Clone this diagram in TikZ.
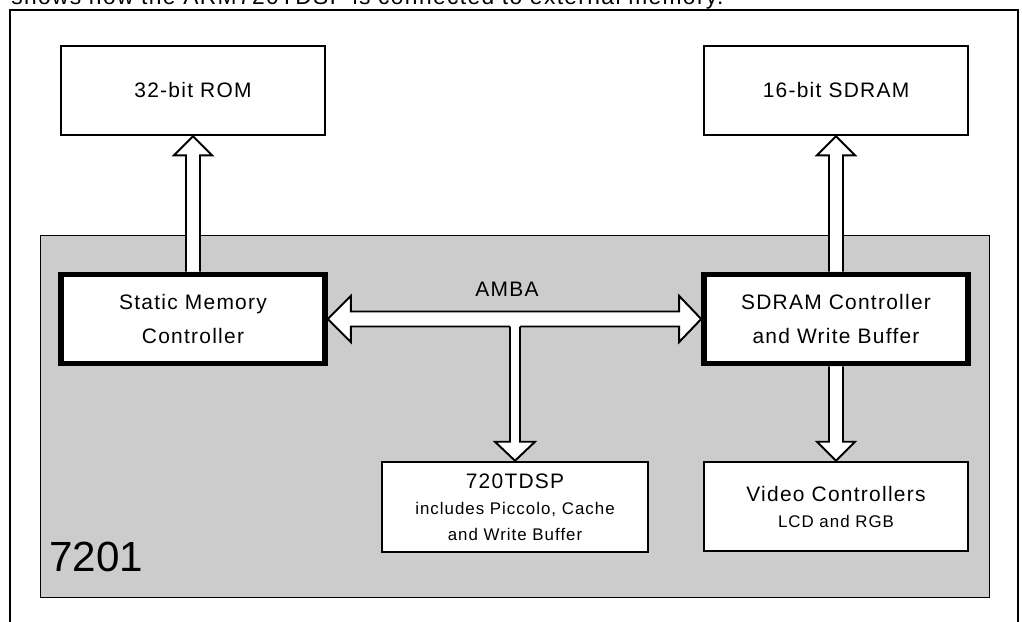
\documentclass[tikz,border=0pt]{standalone}
\usepackage{fontspec}
\setmainfont{Liberation Sans}[LetterSpace=6]
\newfontfamily\chipfont{Liberation Sans}
\usetikzlibrary{calc}
\def\pix{0.025cm}
\newcommand{\bigtext}{\fontsize{14.9pt}{23.5pt}\selectfont}
\newcommand{\smalltext}{\fontsize{12pt}{18pt}\selectfont}
\tikzset{
  chipbox/.style = {draw, fill=white, line width=1.8pt, align=center,
                    inner sep=0pt, minimum width=#1*\pix,
                    minimum height=89*\pix, font=\bigtext},
  chipbox/.default = 264,
  ctrlbox/.style = {chipbox, line width=4pt},
  hollow/.style = {draw, fill=white, line width=1.4pt},
  rim/.style = {draw, line width=1.4pt}
}

\begin{document}
\begin{tikzpicture}[x=0.025cm, y=-0.025cm]
	\useasboundingbox (0,0) rectangle (1022,621);
	\clip (0,0) rectangle (1022,621);
	
	% Caption (cut off by the page)
	\node[anchor=base west, inner sep=0pt, font=\fontsize{16.2pt}{20pt}\selectfont] (caption) at (11,4.5) {shows how the ARM720TDSP is connected to external memory.};
	
	% Frame
	\draw[line width=1.6pt] (10,640) -- (10,10) -- (1018,10) -- (1018,640);
	
	% Chip
	\draw[fill=black!20, line width=0.7pt] (40,235) rectangle (989,597);
	\node[anchor=base west, inner sep=0pt, font=\chipfont\fontsize{30pt}{36pt}\selectfont] (chip) at (49,571) {7201};
	
	% External memory
	\node[chipbox] (rom) at (193,90.5) {32-bit ROM};
	\node[chipbox] (sdram) at (836,90.5) {16-bit SDRAM};
	
	% Controllers
	\node[ctrlbox] (smc) at (193,319) {Static Memory\\Controller};
	\node[ctrlbox] (ctrl) at (836,319) {SDRAM Controller\\and Write Buffer};
	
	% Core and video
	\node[chipbox=266, minimum height=90*\pix] (dsp) at (515,507) {720TDSP\\[-4.5pt]\smalltext includes Piccolo, Cache\\[-5.3pt]\smalltext and Write Buffer};
	\node[chipbox] (video) at (836,506.5) {Video Controllers\\[-5pt]\smalltext LCD and RGB};
	
	% Arrows to memory
	\draw[hollow] ($(smc.north)+(-7,0)$) -- ($(rom.south)+(-7,19)$) -- ($(rom.south)+(-19,19)$) -- (rom.south) -- ($(rom.south)+(19,19)$) -- ($(rom.south)+(7,19)$) -- ($(smc.north)+(7,0)$);
	\draw[hollow] ($(ctrl.north)+(-7,0)$) -- ($(sdram.south)+(-7,19)$) -- ($(sdram.south)+(-19,19)$) -- (sdram.south) -- ($(sdram.south)+(19,19)$) -- ($(sdram.south)+(7,19)$) -- ($(ctrl.north)+(7,0)$);
	
	% AMBA bus
	\draw[hollow] (smc.east) -- ($(smc.east)+(23,-23)$) -- ($(smc.east)+(23,-7.5)$) -- ($(ctrl.west)+(-22,-7.5)$) -- ($(ctrl.west)+(-22,-23)$) -- (ctrl.west) -- ($(ctrl.west)+(-22,23)$) -- ($(ctrl.west)+(-22,7.5)$) -- ($(smc.east)+(23,7.5)$) -- ($(smc.east)+(23,23)$) -- cycle;
	\node[inner sep=0pt, font=\bigtext] (bus) at (507,289.5) {AMBA};
	
	% Bus to 720TDSP
	\coordinate (tap) at (dsp.north |- smc.east);
	\fill[white] ($(tap)+(-5,0)$) -- ($(dsp.north)+(-5,-19)$) -- ($(dsp.north)+(-20,-19)$) -- (dsp.north) -- ($(dsp.north)+(20,-19)$) -- ($(dsp.north)+(5,-19)$) -- ($(tap)+(5,0)$) -- cycle;
	\draw[rim] ($(tap)+(-5,7.5)$) -- ($(dsp.north)+(-5,-19)$) -- ($(dsp.north)+(-20,-19)$) -- (dsp.north) -- ($(dsp.north)+(20,-19)$) -- ($(dsp.north)+(5,-19)$) -- ($(tap)+(5,7.5)$);
	
	% SDRAM controller to video
	\draw[hollow] ($(ctrl.south)+(-7,0)$) -- ($(video.north)+(-7,-19)$) -- ($(video.north)+(-19,-19)$) -- (video.north) -- ($(video.north)+(19,-19)$) -- ($(video.north)+(7,-19)$) -- ($(ctrl.south)+(7,0)$);
	
\end{tikzpicture}
\end{document}
